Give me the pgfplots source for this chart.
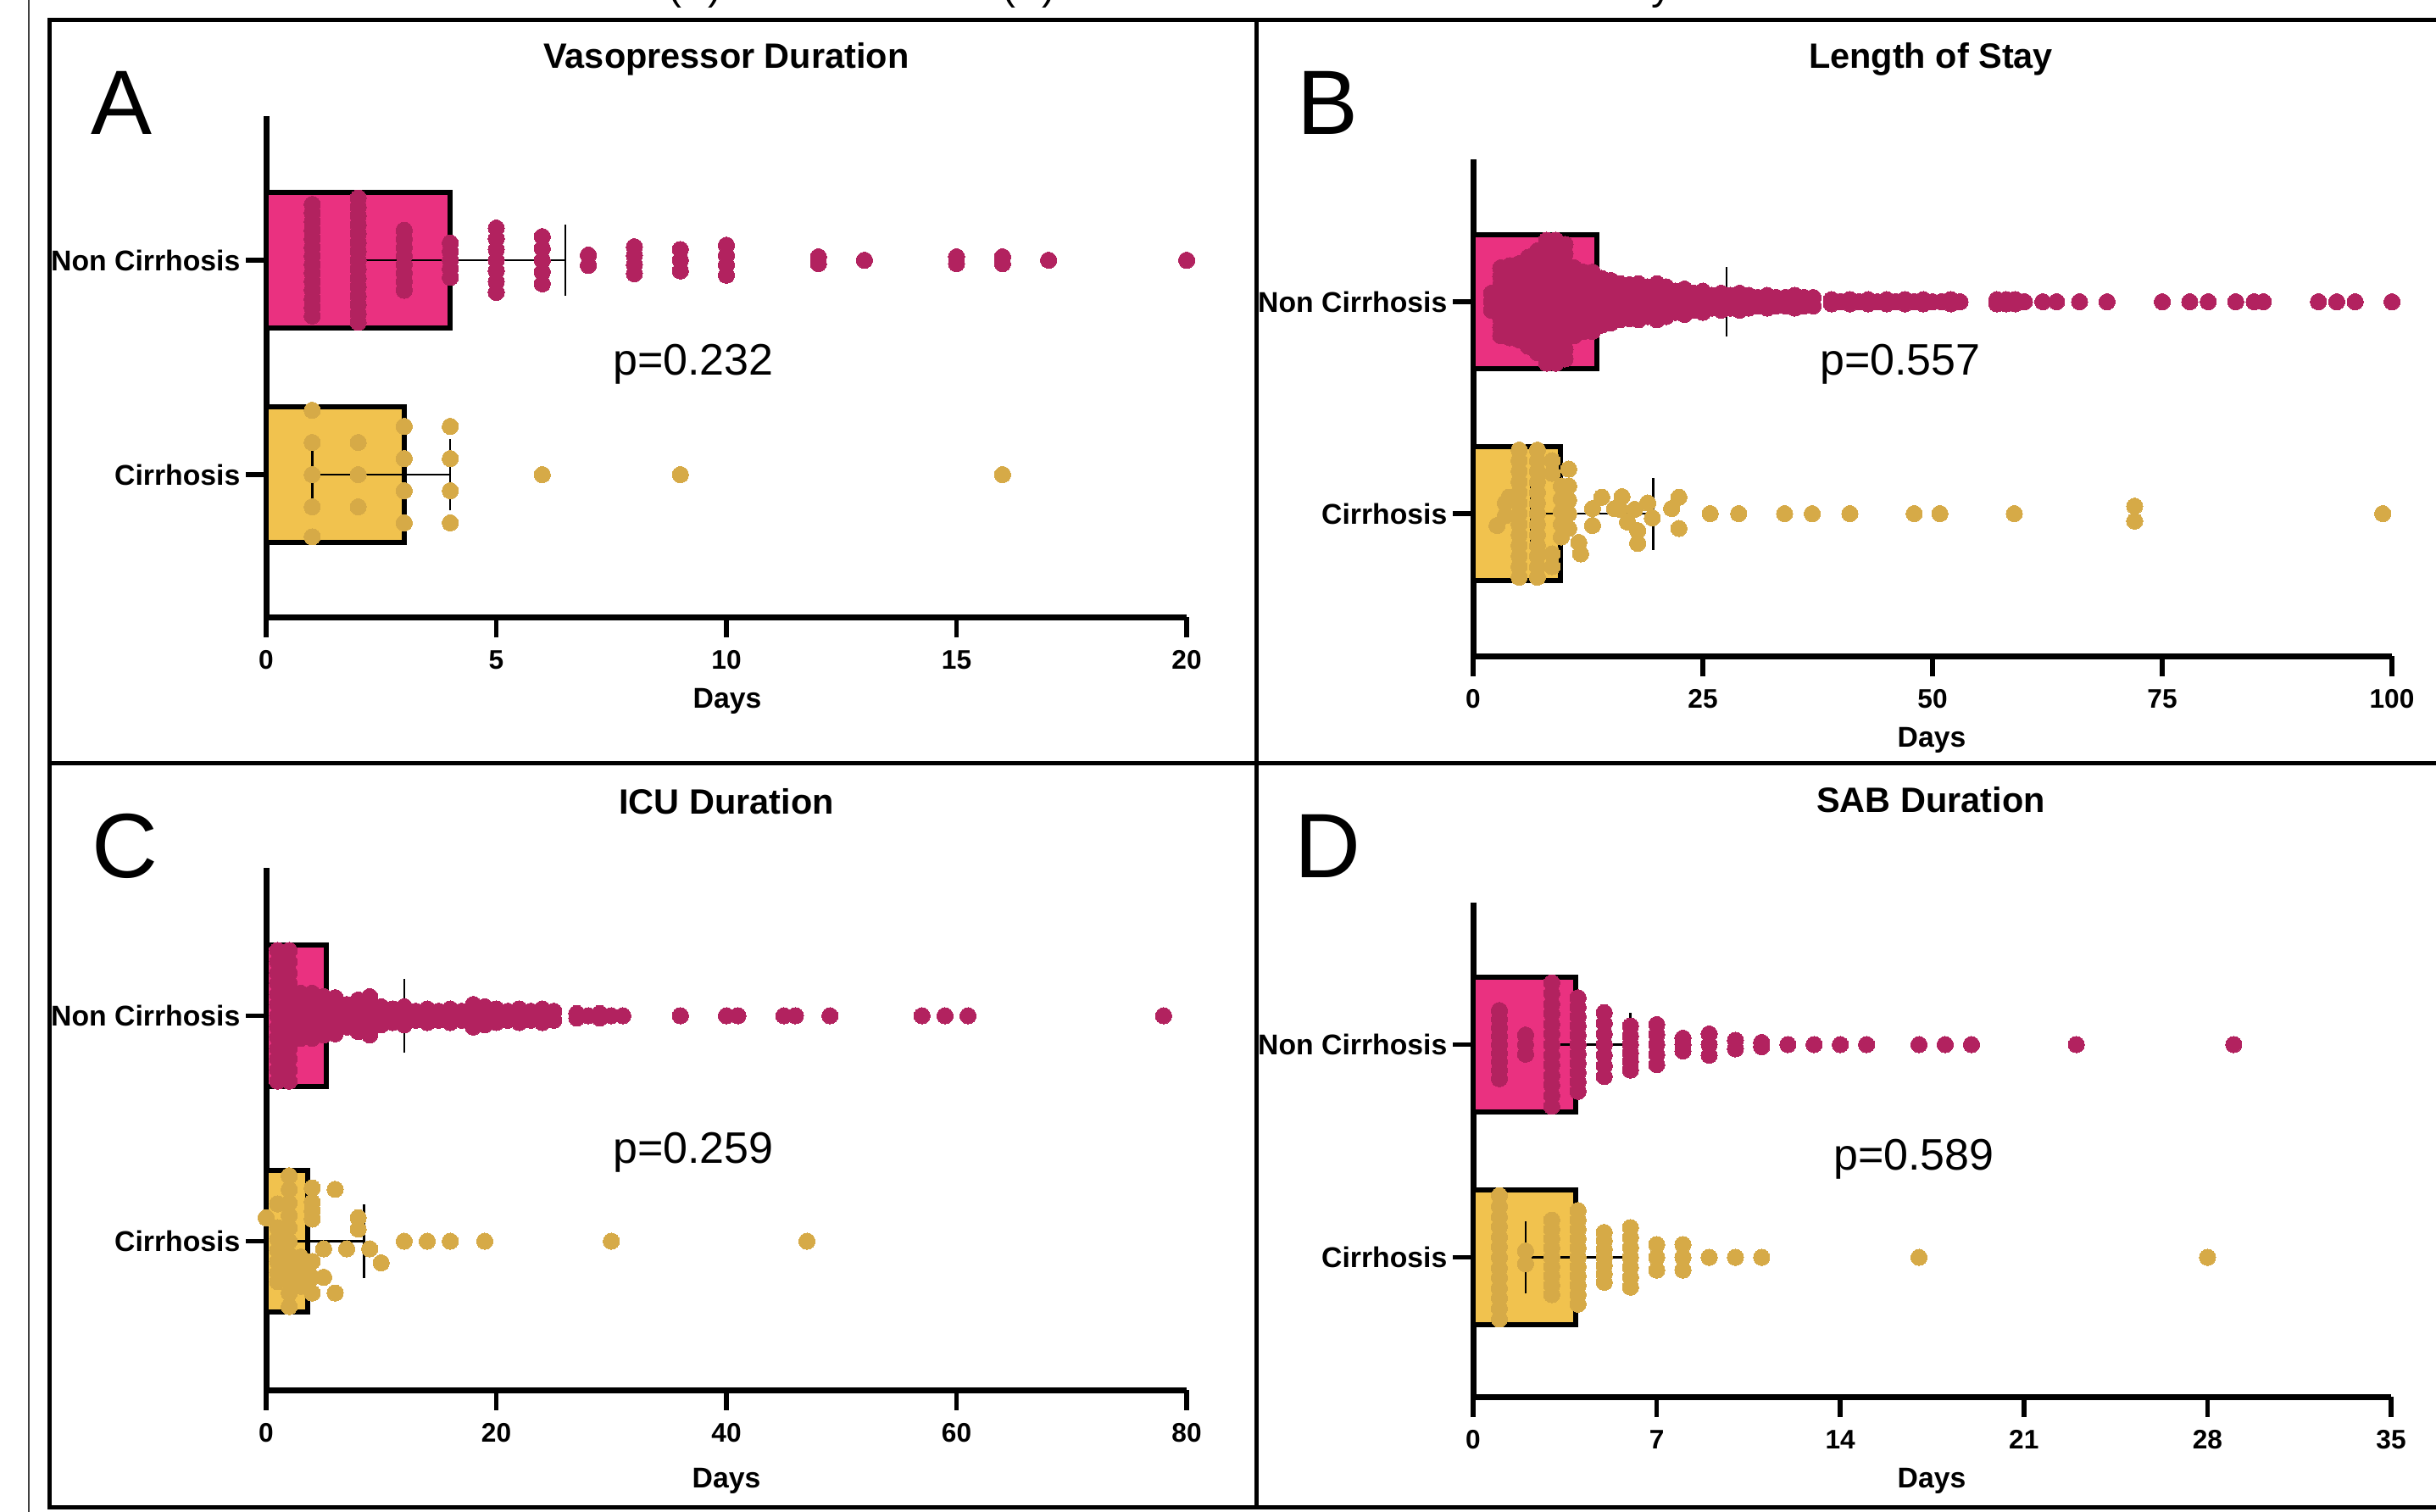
\documentclass[border=0pt]{standalone}
\usepackage{pgfplots}
\pgfplotsset{compat=1.18}
\usepackage{fontspec}
\setmainfont{Liberation Sans}
\definecolor{barpink}{HTML}{EA3180}
\definecolor{dotpink}{HTML}{B2225F}
\definecolor{baryellow}{HTML}{F1C24E}
\definecolor{dotyellow}{HTML}{D6AA47}
\newcommand{\catfont}{\fontsize{9.6pt}{10pt}\selectfont\bfseries}
\newcommand{\tickfont}{\fontsize{9pt}{9pt}\selectfont\bfseries}
\newcommand{\titlefont}{\fontsize{11.8pt}{12pt}\selectfont\bfseries}
\newcommand{\pfont}{\fontsize{14.8pt}{15pt}\selectfont}
\newcommand{\letterfont}{\fontsize{30.7pt}{31pt}\selectfont}
\newcommand{\capfont}{\fontsize{13.6pt}{14pt}\selectfont}
\pgfplotsset{
 panel/.style={
  scale only axis, anchor=south west, clip=false,
  axis x line*=bottom, axis y line*=left,
  axis line style={-, line width=0.7mm, black},
  tick align=outside, major tick length=2.4mm,
  tick style={black, line width=0.55mm},
  ytick={0,1}, yticklabels={Cirrhosis,Non Cirrhosis},
  yticklabel style={font=\catfont, anchor=east, inner sep=0pt, xshift=-0.6mm},
  xticklabel style={font=\tickfont, anchor=base, inner sep=0pt, yshift=-3.7mm},
  /pgf/number format/assume math mode=true,
 },
 ncdots/.style={only marks, mark=*, mark size=0.96mm, mark options={solid, fill=dotpink, draw=dotpink, line width=0pt}},
 cdots/.style={only marks, mark=*, mark size=0.96mm, mark options={solid, fill=dotyellow, draw=dotyellow, line width=0pt}},
 errl/.style={black, line width=0.25mm, mark=none},
 ncbar/.style={xbar, bar shift=0pt, bar width=0.63, fill=barpink, draw=black, line width=0.6mm},
 cbar/.style={xbar, bar shift=0pt, bar width=0.63, fill=baryellow, draw=black, line width=0.6mm},
}
\begin{document}
\begin{tikzpicture}
\useasboundingbox (0,0) rectangle (287.4mm,-178.3mm);
\clip (0,0) rectangle (287.4mm,-178.3mm);

% ---------------- Panel A ----------------
\begin{axis}[panel, at={(31.4mm,-72.8mm)}, width=108.6mm, height=59.1mm,
  xmin=0, xmax=20, ymin=-0.664, ymax=1.672, xtick={0,5,10,15,20}]
\addplot[ncbar] coordinates {(4,1)};
\addplot[cbar] coordinates {(3,0)};
\addplot[errl] coordinates {(2,1) (6.5,1)};
\addplot[errl] coordinates {(2,0.835) (2,1.165)};
\addplot[errl] coordinates {(6.5,0.835) (6.5,1.165)};
\addplot[errl] coordinates {(1,0) (4,0)};
\addplot[errl] coordinates {(1,-0.165) (1,0.165)};
\addplot[errl] coordinates {(4,-0.165) (4,0.165)};
\addplot[ncdots] coordinates {
(1,0.74)(1,0.78)(1,0.82)(1,0.86)(1,0.90)(1,0.94)(1,0.98)(1,1.02)(1,1.06)(1,1.10)(1,1.14)(1,1.18)(1,1.22)(1,1.26)
(2,0.71)(2,0.751)(2,0.793)(2,0.834)(2,0.876)(2,0.917)(2,0.959)(2,1)(2,1.041)(2,1.083)(2,1.124)(2,1.166)(2,1.207)(2,1.249)(2,1.29)
(3,0.86)(3,0.90)(3,0.94)(3,0.98)(3,1.02)(3,1.06)(3,1.10)(3,1.14)
(4,0.92)(4,0.96)(4,1)(4,1.04)(4,1.08)
(5,0.85)(5,0.90)(5,0.95)(5,1)(5,1.05)(5,1.10)(5,1.15)
(6,0.89)(6,0.945)(6,1)(6,1.055)(6,1.11)
(7,0.976)(7,1.024)
(8,0.937)(8,0.979)(8,1.021)(8,1.063)
(9,0.95)(9,1)(9,1.05)
(10,0.93)(10,0.977)(10,1.023)(10,1.07)
(12,0.984)(12,1.016)(13,1)(15,0.984)(15,1.016)(16,0.984)(16,1.016)(17,1)(20,1)
};
\addplot[cdots] coordinates {
(1,-0.29)(1,-0.15)(1,0)(1,0.15)(1,0.30)
(2,-0.15)(2,0)(2,0.15)
(3,-0.225)(3,-0.075)(3,0.075)(3,0.225)
(4,-0.225)(4,-0.075)(4,0.075)(4,0.225)
(6,0)(9,0)(16,0)
};
\end{axis}

% ---------------- Panel B ----------------
\begin{axis}[panel, at={(173.8mm,-77.4mm)}, width=108.4mm, height=58.6mm,
  xmin=0, xmax=100, ymin=-0.672, ymax=1.672, xtick={0,25,50,75,100}]
\addplot[ncbar] coordinates {(13.5,1)};
\addplot[cbar] coordinates {(9.5,0)};
\addplot[errl] coordinates {(6,1) (27.6,1)};
\addplot[errl] coordinates {(27.6,0.835) (27.6,1.165)};
\addplot[errl] coordinates {(6.3,0) (19.6,0)};
\addplot[errl] coordinates {(6.3,-0.17) (6.3,0.17)};
\addplot[errl] coordinates {(19.6,-0.17) (19.6,0.17)};
\addplot[ncdots] coordinates {
(2,0.96)(2,1)(2,1.04)
(3,0.84)(3,0.88)(3,0.92)(3,0.96)(3,1)(3,1.04)(3,1.08)(3,1.12)(3,1.16)
(4,0.83)(4,0.872)(4,0.915)(4,0.957)(4,1)(4,1.043)(4,1.085)(4,1.128)(4,1.17)
(5,0.82)(5,0.865)(5,0.91)(5,0.955)(5,1)(5,1.045)(5,1.09)(5,1.135)(5,1.18)
(6,0.79)(6,0.83)(6,0.87)(6,0.915)(6,0.96)(6,1)(6,1.04)(6,1.085)(6,1.13)(6,1.17)(6,1.21)
(7,0.76)(7,0.8)(7,0.84)(7,0.88)(7,0.92)(7,0.96)(7,1)(7,1.04)(7,1.08)(7,1.12)(7,1.16)(7,1.2)(7,1.24)
(8,0.71)(8,0.76)(8,0.81)(8,0.855)(8,0.905)(8,0.95)(8,1)(8,1.05)(8,1.095)(8,1.145)(8,1.19)(8,1.24)(8,1.29)
(9,0.71)(9,0.76)(9,0.81)(9,0.855)(9,0.905)(9,0.95)(9,1)(9,1.05)(9,1.095)(9,1.145)(9,1.19)(9,1.24)(9,1.29)
(10,0.73)(10,0.775)(10,0.82)(10,0.865)(10,0.91)(10,0.955)(10,1)(10,1.045)(10,1.09)(10,1.135)(10,1.18)(10,1.225)(10,1.27)
(11,0.84)(11,0.88)(11,0.92)(11,0.96)(11,1)(11,1.04)(11,1.08)(11,1.12)(11,1.16)
(12,0.86)(12,0.907)(12,0.953)(12,1)(12,1.047)(12,1.093)(12,1.14)
(13,0.86)(13,0.907)(13,0.953)(13,1)(13,1.047)(13,1.093)(13,1.14)
(14,0.89)(14,0.945)(14,1)(14,1.055)(14,1.11)
(15,0.9)(15,0.95)(15,1)(15,1.05)(15,1.1)
(16,0.915)(16,0.957)(16,1)(16,1.043)(16,1.085)
(17,0.92)(17,0.96)(17,1)(17,1.04)(17,1.08)
(18,0.915)(18,0.957)(18,1)(18,1.043)(18,1.085)
(19,0.93)(19,0.977)(19,1.023)(19,1.07)
(20,0.915)(20,0.957)(20,1)(20,1.043)(20,1.085)
(21,0.93)(21,0.977)(21,1.023)(21,1.07)
(22,0.95)(22,1)(22,1.05)
(23,0.94)(23,1)(23,1.06)
(24,0.96)(24,1)(24,1.04)
(25,0.95)(25,1)(25,1.05)
(26,0.97)(26,1.03)
(27,0.96)(27,1)(27,1.04)
(28,0.97)(28,1.03)
(29,0.96)(29,1)(29,1.04)
(30,0.97)(30,1.03)
(31,0.98)(31,1.02)
(32,0.97)(32,1.03)
(33,0.98)(33,1.02)
(34,0.98)(34,1.02)
(35,0.97)(35,1.03)
(36,0.98)(36,1.02)
(37,0.98)(37,1.02)
(39,0.99)(39,1.01)(40,1)(41,0.99)(41,1.01)(42,1)(43,0.99)(43,1.01)(44,1)
(45,0.99)(45,1.01)(46,1)(47,0.99)(47,1.01)(48,1)(49,0.99)(49,1.01)(50,1)(51,1)
(52,0.99)(52,1.01)(53,1)
(57,0.99)(57,1.01)(58,0.99)(58,1.01)(59,0.99)(59,1.01)(60,1)
(62,1)(63.5,1)(66,1)(69,1)(75,1)(78,1)(80,1)(83,1)(85,1)(86,1)(92,1)(94,1)(96,1)(100,1)
};
\addplot[cdots] coordinates {
(2.6,-0.056)(3.5,0.05)(3.5,-0.01)(3.9,0.077)
(5,-0.3)(5,-0.25)(5,-0.2)(5,-0.15)(5,-0.1)(5,-0.05)(5,0)(5,0.05)(5,0.1)(5,0.15)(5,0.2)(5,0.25)(5,0.3)
(7,-0.3)(7,-0.25)(7,-0.2)(7,-0.15)(7,-0.1)(7,-0.05)(7,0)(7,0.05)(7,0.1)(7,0.15)(7,0.2)(7,0.25)(7,0.3)
(8.6,0.25)(8.6,0.19)(8.6,-0.19)(8.6,-0.25)
(9.6,0.13)(9.6,0.07)(9.6,0.01)(9.6,-0.05)(9.6,-0.11)
(10.4,0.21)(10.4,0.13)(10.4,0.064)(10.4,0)(10.4,-0.07)
(11.5,-0.136)(11.7,-0.19)
(13,0.024)(13,-0.056)(14,0.077)(15.4,0.024)
(16.2,0.08)(16,0.02)(17.6,0.02)(16.8,-0.04)(17.9,-0.08)(17.9,-0.14)
(19,0.05)(19.5,-0.02)
(21.6,0.024)(22.4,0.077)(22.4,-0.07)
(25.8,0)(28.9,0)(33.9,0)(36.9,0)(41,0)(48,0)(50.8,0)(58.9,0)(72,0.035)(72,-0.035)(99,0)
};
\end{axis}

% ---------------- Panel C ----------------
\begin{axis}[panel, at={(31.4mm,-164.0mm)}, width=108.6mm, height=61.6mm,
  xmin=0, xmax=80, ymin=-0.66, ymax=1.656, xtick={0,20,40,60,80}]
\addplot[ncbar] coordinates {(5.2,1)};
\addplot[cbar] coordinates {(3.6,0)};
\addplot[errl] coordinates {(1,1) (12,1)};
\addplot[errl] coordinates {(12,0.835) (12,1.165)};
\addplot[errl] coordinates {(1.75,0) (8.5,0)};
\addplot[errl] coordinates {(1.75,-0.165) (1.75,0.165)};
\addplot[errl] coordinates {(8.5,-0.165) (8.5,0.165)};
\addplot[ncdots] coordinates {
(1,0.71)(1,0.76)(1,0.81)(1,0.855)(1,0.905)(1,0.95)(1,1)(1,1.05)(1,1.095)(1,1.145)(1,1.19)(1,1.24)(1,1.29)
(2,0.71)(2,0.76)(2,0.81)(2,0.855)(2,0.905)(2,0.95)(2,1)(2,1.05)(2,1.095)(2,1.145)(2,1.19)(2,1.24)(2,1.29)
(3,0.9)(3,0.95)(3,1)(3,1.05)(3,1.1)
(4,0.9)(4,0.95)(4,1)(4,1.05)(4,1.1)
(5,0.915)(5,0.957)(5,1)(5,1.043)(5,1.085)
(6,0.92)(6,0.96)(6,1)(6,1.04)(6,1.08)
(7,0.95)(7,1)(7,1.05)
(8,0.93)(8,0.977)(8,1.023)(8,1.07)
(9,0.915)(9,0.957)(9,1)(9,1.043)(9,1.085)
(10,0.96)(10,1)(10,1.04)
(11,0.97)(11,1.03)
(12,0.96)(12,1)(12,1.04)
(13,0.98)(13,1.02)
(14,0.97)(14,1.03)
(15,0.98)(15,1.02)
(16,0.97)(16,1.03)
(17,0.98)(17,1.02)
(18,0.95)(18,1)(18,1.05)
(19,0.96)(19,1)(19,1.04)
(20,0.97)(20,1.03)
(21,0.98)(21,1.02)
(22,0.97)(22,1.03)
(23,0.98)(23,1.02)
(24,0.97)(24,1.03)
(25,0.98)(25,1.02)
(27,0.99)(27,1.01)(28,1)(29,0.99)(29,1.01)(30,1)(31,1)
(36,1)(40,1)(41,1)(45,1)(46,1)(49,1)(57,1)(59,1)(61,1)(78,1)
};
\addplot[cdots] coordinates {
(0,0.104)
(1,0.165)(1,0.06)(1,0.01)(1,-0.04)(1,-0.09)(1,-0.14)(1,-0.18)
(2,0.29)(2,0.23)(2,0.17)(2,0.115)(2,0.06)(2,0)(2,-0.06)(2,-0.115)(2,-0.17)(2,-0.23)(2,-0.29)
(3,-0.07)(3,-0.13)(3,-0.2)
(4,0.236)(4,0.173)(4,0.135)(4,0.098)(4,-0.09)(4,-0.16)(4,-0.23)
(5,-0.034)(5,-0.16)(6,0.23)(6,-0.23)(7,-0.034)(8,0.104)(8,0.054)(9,-0.034)(10,-0.096)
(12,0)(14,0)(16,0)(19,0)(30,0)(47,0)
};
\end{axis}

% ---------------- Panel D ----------------
\begin{axis}[panel, at={(173.8mm,-164.8mm)}, width=108.3mm, height=58.3mm,
  xmin=0, xmax=35, ymin=-0.655, ymax=1.667, xtick={0,7,14,21,28,35}]
\addplot[ncbar] coordinates {(3.9,1)};
\addplot[cbar] coordinates {(3.9,0)};
\addplot[errl] coordinates {(3,1) (6,1)};
\addplot[errl] coordinates {(3,0.85) (3,1.15)};
\addplot[errl] coordinates {(6,0.85) (6,1.15)};
\addplot[errl] coordinates {(2,0) (6,0)};
\addplot[errl] coordinates {(2,-0.17) (2,0.17)};
\addplot[errl] coordinates {(6,-0.17) (6,0.17)};
\addplot[ncdots] coordinates {
(1,0.84)(1,0.88)(1,0.92)(1,0.96)(1,1)(1,1.04)(1,1.08)(1,1.12)(1,1.16)
(2,0.955)(2,1)(2,1.045)
(3,0.71)(3,0.76)(3,0.81)(3,0.855)(3,0.905)(3,0.95)(3,1)(3,1.05)(3,1.095)(3,1.145)(3,1.19)(3,1.24)(3,1.29)
(4,0.78)(4,0.824)(4,0.868)(4,0.912)(4,0.956)(4,1)(4,1.044)(4,1.088)(4,1.132)(4,1.176)(4,1.22)
(5,0.85)(5,0.9)(5,0.95)(5,1)(5,1.05)(5,1.1)(5,1.15)
(6,0.88)(6,0.92)(6,0.96)(6,1)(6,1.04)(6,1.087)
(7,0.906)(7,0.953)(7,1)(7,1.047)(7,1.094)
(8,0.97)(8,1)(8,1.03)
(9,0.95)(9,1)(9,1.05)
(10,0.98)(10,1.02)
(11,0.99)(11,1.01)
(12,1)(13,1)(14,1)(15,1)(17,1)(18,1)(19,1)(23,1)(29,1)
};
\addplot[cdots] coordinates {
(1,-0.29)(1,-0.24)(1,-0.19)(1,-0.145)(1,-0.095)(1,-0.05)(1,0)(1,0.05)(1,0.095)(1,0.145)(1,0.19)(1,0.24)(1,0.29)
(2,-0.03)(2,0.03)
(3,-0.175)(3,-0.131)(3,-0.0875)(3,-0.044)(3,0)(3,0.044)(3,0.0875)(3,0.131)(3,0.175)
(4,-0.22)(4,-0.176)(4,-0.132)(4,-0.088)(4,-0.044)(4,0)(4,0.044)(4,0.088)(4,0.132)(4,0.176)(4,0.22)
(5,-0.117)(5,-0.078)(5,-0.039)(5,0)(5,0.039)(5,0.078)(5,0.117)
(6,-0.14)(6,-0.093)(6,-0.047)(6,0)(6,0.047)(6,0.093)(6,0.14)
(7,-0.06)(7,0)(7,0.06)
(8,-0.06)(8,0)(8,0.06)
(9,0)(10,0)(11,0)(17,0)(28,0)
};
\end{axis}

% ---------------- frame and texts ----------------
\begin{scope}[x=0.1mm, y=-0.1mm]
\draw[line width=0.25mm, black!75] (34,-10) -- (34,1800);
\draw[line width=0.5mm] (2900,23) -- (58,23) -- (58,1778) -- (2900,1778);
\draw[line width=0.5mm] (1482,23) -- (1482,1778);
\draw[line width=0.5mm] (58,900) -- (2900,900);

\node[anchor=base, inner sep=0, font=\capfont] at (820,-1) {(A)};
\node[anchor=base, inner sep=0, font=\capfont] at (1214,-1) {(B)};
\node[anchor=base west, inner sep=0, font=\capfont] at (1948,-1) {y};

\node[anchor=base, font=\titlefont] at (857,80) {Vasopressor Duration};
\node[anchor=base, font=\titlefont] at (2278,80) {Length of Stay};
\node[anchor=base, font=\titlefont] at (857,960) {ICU Duration};
\node[anchor=base, font=\titlefont] at (2278,958) {SAB Duration};

\node[anchor=base west, inner sep=0, font=\letterfont] at (107,158) {A};
\node[anchor=base west, inner sep=0, font=\letterfont] at (1530,158) {B};
\node[anchor=base west, inner sep=0, font=\letterfont] at (108,1035) {C};
\node[anchor=base west, inner sep=0, font=\letterfont] at (1527,1035) {D};

\node[anchor=base, font=\pfont] at (818,442) {p=0.232};
\node[anchor=base, font=\pfont] at (2242,442) {p=0.557};
\node[anchor=base, font=\pfont] at (818,1372) {p=0.259};
\node[anchor=base, font=\pfont] at (2258,1380) {p=0.589};

\node[anchor=base, font=\catfont] at (858,835) {Days};
\node[anchor=base, font=\catfont] at (2279,881) {Days};
\node[anchor=base, font=\catfont] at (857,1755) {Days};
\node[anchor=base, font=\catfont] at (2279,1755) {Days};
\end{scope}
\end{tikzpicture}
\end{document}
